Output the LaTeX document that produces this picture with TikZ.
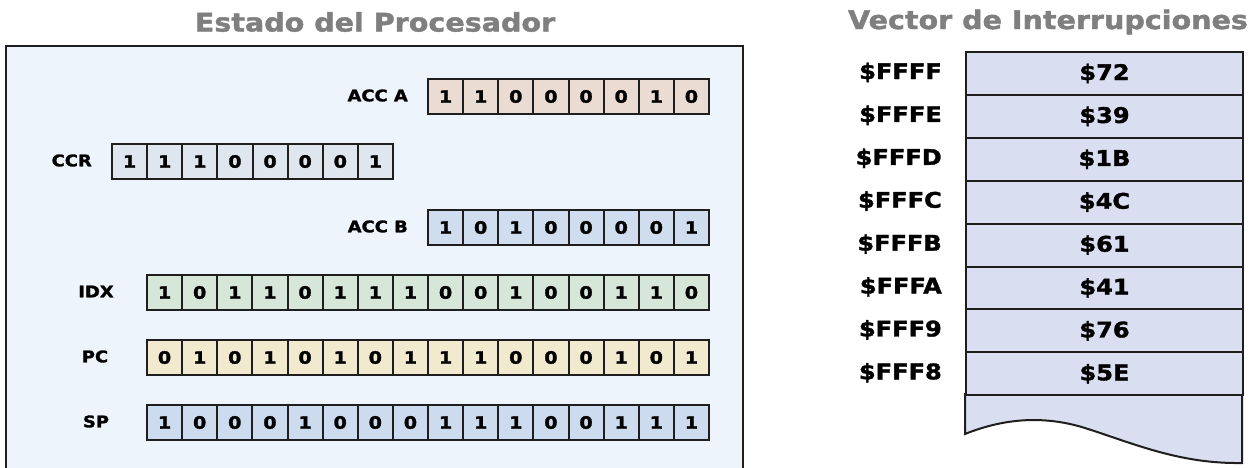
\documentclass[tikz,border=0pt]{standalone}
\usepackage{fontspec}
\setmainfont{DejaVu Sans}
\newfontfamily\hv{DejaVu Sans}[FakeStretch=1.12, FakeBold=1.6]
\definecolor{boxbg}{HTML}{EEF4FB}
\definecolor{edge}{HTML}{1E1E1E}
\definecolor{titlegray}{HTML}{7F7F7F}
\definecolor{cAccA}{HTML}{EADCD3}
\definecolor{cCCR}{HTML}{E0E6EE}
\definecolor{cAccB}{HTML}{CFDDEF}
\definecolor{cIDX}{HTML}{D6E7D9}
\definecolor{cPC}{HTML}{F1EACF}
\definecolor{cSP}{HTML}{CCDBEE}
\definecolor{cVec}{HTML}{D9DFF0}
\tikzset{
  bitcell/.style={draw=edge, line width=2pt, minimum width=35.125pt, minimum height=35pt,
    inner sep=0pt, anchor=north west, font=\hv\bfseries\fontsize{17}{19}\selectfont},
  reglabel/.style={inner sep=0pt, font=\hv\bfseries\fontsize{16}{18}\selectfont},
  titletext/.style={inner sep=0pt, text=titlegray, font=\hv\bfseries\fontsize{25.5}{28}\selectfont},
  vecrow/.style={draw=edge, line width=2pt, fill=cVec, minimum width=277pt, minimum height=42.9pt,
    inner sep=0pt, anchor=north west, font=\hv\bfseries\fontsize{21.5}{24}\selectfont},
  addrlabel/.style={inner sep=0pt, anchor=east, font=\hv\bfseries\fontsize{21.5}{24}\selectfont},
}
\begin{document}
\begin{tikzpicture}[x=1pt,y=-1pt]
\useasboundingbox (0,0) rectangle (1256,468);
\clip (0,0) rectangle (1256,468);
% titles
\node[titletext] (t1) at (375,22) {Estado del Procesador};
\node[titletext] (t2) at (1048,22) {Vector de Interrupciones};
% processor box
\draw[fill=boxbg, draw=edge, line width=2.6pt] (6,46) rectangle (743,490);
% ACC A
\node[reglabel, anchor=east] (lAccA) at (408,95.5) {ACC A};
\foreach \b [count=\i] in {1,1,0,0,0,0,1,0}
  \node[bitcell, fill=cAccA] (accA-\i) at ({427+35.125*(\i-1)},78) {\b};
% CCR
\node[reglabel, anchor=east] (lCCR) at (92,160.5) {CCR};
\foreach \b [count=\i] in {1,1,1,0,0,0,0,1}
  \node[bitcell, fill=cCCR] (ccr-\i) at ({111+35.125*(\i-1)},143) {\b};
% ACC B
\node[reglabel, anchor=east] (lAccB) at (408,226.5) {ACC B};
\foreach \b [count=\i] in {1,0,1,0,0,0,0,1}
  \node[bitcell, fill=cAccB] (accB-\i) at ({427+35.125*(\i-1)},209) {\b};
% IDX
\node[reglabel] (lIDX) at (96,291.5) {IDX};
\foreach \b [count=\i] in {1,0,1,1,0,1,1,1,0,0,1,0,0,1,1,0}
  \node[bitcell, fill=cIDX] (idx-\i) at ({146+35.125*(\i-1)},274) {\b};
% PC
\node[reglabel] (lPC) at (95,356.5) {PC};
\foreach \b [count=\i] in {0,1,0,1,0,1,0,1,1,1,0,0,0,1,0,1}
  \node[bitcell, fill=cPC] (pc-\i) at ({146+35.125*(\i-1)},339) {\b};
% SP
\node[reglabel] (lSP) at (96,421.5) {SP};
\foreach \b [count=\i] in {1,0,0,0,1,0,0,0,1,1,1,0,0,1,1,1}
  \node[bitcell, fill=cSP] (sp-\i) at ({146+35.125*(\i-1)},404) {\b};
% interrupt vector
\draw[fill=cVec, draw=edge, line width=2pt] (965,394) -- (965,434)
  .. controls (1000,420) and (1040,414) .. (1085,428)
  .. controls (1135,444) and (1180,464) .. (1242,463) -- (1242,394) -- cycle;
\foreach \a/\v [count=\i] in {FFFF/72,FFFE/39,FFFD/1B,FFFC/4C,FFFB/61,FFFA/41,FFF9/76,FFF8/5E}{
  \node[vecrow] (v-\i) at (965,{51+42.9*(\i-1)}) {\$\v};
  \node[addrlabel] (a-\i) at (942,{51+42.9*(\i-0.5)}) {\$\a};
}
\end{tikzpicture}
\end{document}
